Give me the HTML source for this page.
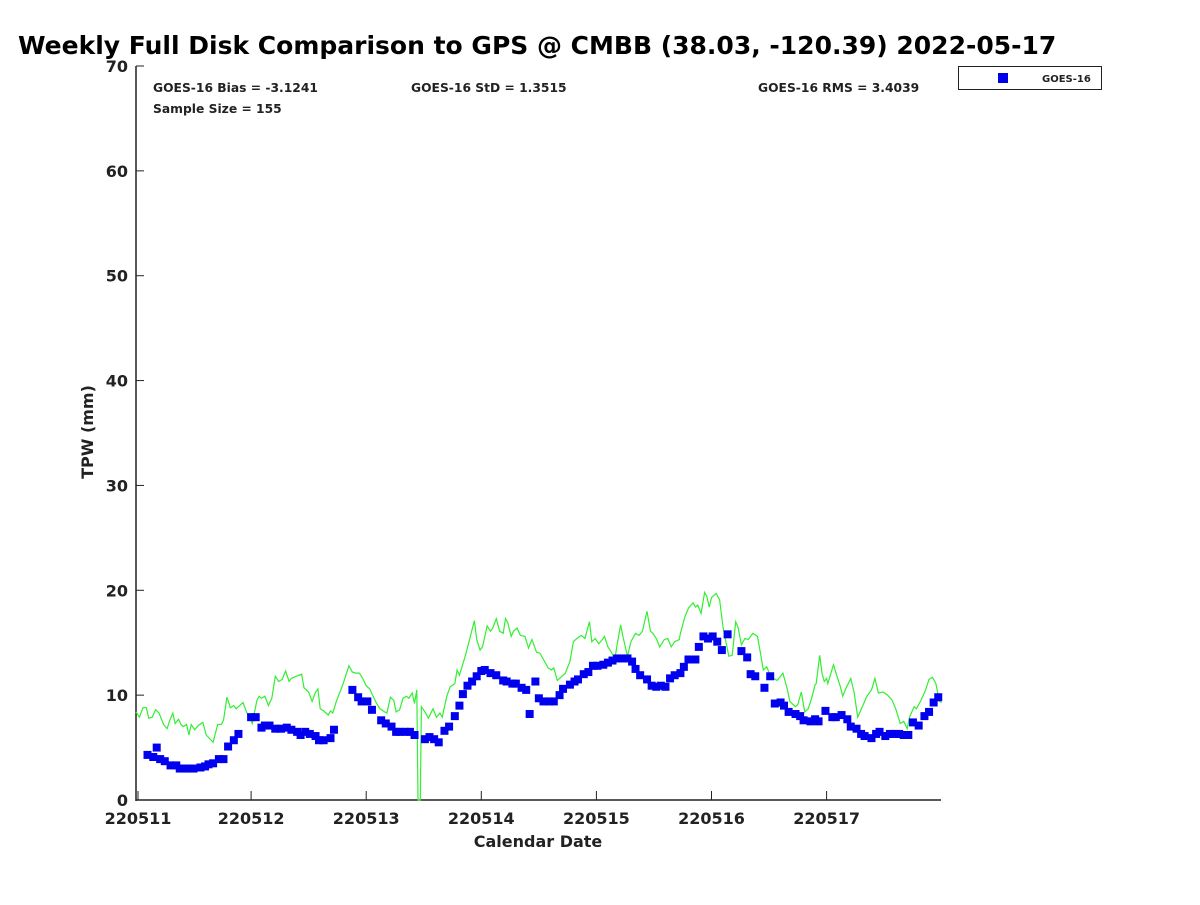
<!DOCTYPE html>
<html><head><meta charset="utf-8"><style>
body{margin:0;background:#fff;}
svg text{font-family:"DejaVu Sans","Liberation Sans",sans-serif;font-weight:bold;fill:#222;}
</style></head><body>
<svg width="1200" height="900" xmlns="http://www.w3.org/2000/svg">
<text x="18" y="54" font-size="25" style="fill:#000">Weekly Full Disk Comparison to GPS @ CMBB (38.03, -120.39) 2022-05-17</text>
<g id="axes"></g>
<g id="marks"></g>
<text x="153" y="92" font-size="12.3">GOES-16 Bias = -3.1241</text>
<text x="411" y="92" font-size="12.3">GOES-16 StD = 1.3515</text>
<text x="758" y="92" font-size="12.3">GOES-16 RMS = 3.4039</text>
<text x="153" y="113" font-size="12.3">Sample Size = 155</text>
<g>
<rect x="958.5" y="66.5" width="143" height="23" fill="#fff" stroke="#222" stroke-width="1"/>
<rect x="998" y="73" width="10" height="10" fill="#0000ee"/>
<text x="1042" y="82" font-size="10">GOES-16</text>
</g>
<text transform="translate(93,432) rotate(-90)" text-anchor="middle" font-size="16">TPW (mm)</text>
<text x="538" y="847" text-anchor="middle" font-size="16">Calendar Date</text>
</svg>
<script>
const yTicks=[0,10,20,30,40,50,60,70];
const xTickLabels=["220511","220512","220513","220514","220515","220516","220517"];
const goesDays=[0.10,0.15,0.18,0.21,0.25,0.30,0.35,0.38,0.43,0.46,0.50,0.56,0.60,0.63,0.67,0.72,0.76,0.80,0.85,0.89,1.00,1.04,1.09,1.12,1.16,1.21,1.26,1.31,1.35,1.40,1.43,1.47,1.51,1.56,1.59,1.63,1.69,1.72,1.88,1.93,1.96,2.01,2.05,2.13,2.17,2.22,2.26,2.29,2.34,2.38,2.42,2.51,2.55,2.59,2.63,2.68,2.72,2.77,2.81,2.84,2.88,2.92,2.96,3.00,3.03,3.08,3.13,3.19,3.22,3.27,3.30,3.35,3.39,3.42,3.47,3.50,3.54,3.59,3.63,3.68,3.71,3.77,3.81,3.84,3.89,3.93,3.97,4.01,4.06,4.10,4.14,4.18,4.22,4.27,4.31,4.34,4.38,4.44,4.48,4.52,4.56,4.60,4.64,4.68,4.73,4.76,4.80,4.86,4.89,4.93,4.97,5.01,5.05,5.09,5.14,5.26,5.31,5.34,5.38,5.46,5.51,5.55,5.60,5.63,5.67,5.73,5.77,5.80,5.86,5.90,5.93,5.99,6.05,6.08,6.13,6.18,6.21,6.26,6.30,6.33,6.39,6.43,6.46,6.51,6.55,6.59,6.63,6.67,6.71,6.75,6.80,6.85,6.89,6.93,6.97];
const goesTpw=[4.3,4.1,5.0,3.9,3.7,3.3,3.3,3.0,3.0,3.0,3.0,3.1,3.2,3.4,3.5,3.9,3.9,5.1,5.7,6.3,7.9,7.9,6.9,7.1,7.1,6.8,6.8,6.9,6.7,6.5,6.2,6.5,6.3,6.1,5.7,5.7,5.9,6.7,10.5,9.8,9.4,9.4,8.6,7.6,7.3,7.0,6.5,6.5,6.5,6.5,6.2,5.8,6.0,5.8,5.5,6.6,7.0,8.0,9.0,10.1,10.9,11.3,11.8,12.3,12.4,12.1,11.9,11.4,11.3,11.1,11.1,10.7,10.5,8.2,11.3,9.7,9.4,9.4,9.4,10.0,10.6,11.0,11.3,11.5,12.0,12.2,12.8,12.8,12.9,13.1,13.3,13.5,13.5,13.5,13.2,12.5,11.9,11.5,10.9,10.8,10.9,10.8,11.6,11.9,12.1,12.7,13.4,13.4,14.6,15.6,15.4,15.6,15.1,14.3,15.8,14.2,13.6,12.0,11.8,10.7,11.8,9.2,9.3,9.0,8.4,8.2,8.0,7.6,7.5,7.7,7.5,8.5,7.9,7.9,8.1,7.7,7.0,6.8,6.3,6.1,5.9,6.3,6.5,6.1,6.3,6.3,6.3,6.2,6.2,7.4,7.1,8.0,8.4,9.3,9.8];
const gpsDays=[0.00,0.03,0.06,0.09,0.11,0.14,0.17,0.20,0.24,0.27,0.29,0.32,0.34,0.37,0.39,0.41,0.44,0.46,0.48,0.51,0.54,0.58,0.61,0.67,0.71,0.74,0.76,0.79,0.82,0.85,0.87,0.90,0.93,0.96,1.01,1.03,1.05,1.07,1.09,1.12,1.15,1.18,1.21,1.24,1.27,1.30,1.33,1.35,1.39,1.44,1.46,1.50,1.53,1.56,1.58,1.60,1.63,1.67,1.69,1.71,1.74,1.80,1.85,1.88,1.91,1.94,1.97,2.00,2.03,2.06,2.09,2.12,2.16,2.18,2.21,2.24,2.26,2.29,2.32,2.35,2.37,2.40,2.42,2.44,2.45,2.47,2.48,2.51,2.54,2.58,2.61,2.64,2.66,2.70,2.73,2.77,2.79,2.81,2.86,2.90,2.94,2.96,2.99,3.01,3.05,3.08,3.10,3.13,3.16,3.19,3.21,3.23,3.26,3.28,3.31,3.34,3.38,3.41,3.44,3.48,3.51,3.54,3.58,3.61,3.63,3.66,3.68,3.73,3.77,3.80,3.83,3.87,3.90,3.94,3.96,3.99,4.02,4.05,4.07,4.10,4.13,4.16,4.18,4.21,4.23,4.27,4.30,4.34,4.37,4.40,4.44,4.47,4.49,4.52,4.55,4.59,4.62,4.65,4.68,4.72,4.73,4.77,4.80,4.84,4.86,4.88,4.91,4.94,4.96,4.98,5.00,5.04,5.07,5.10,5.13,5.15,5.18,5.21,5.23,5.26,5.29,5.32,5.36,5.40,5.43,5.45,5.48,5.51,5.54,5.57,5.60,5.62,5.66,5.68,5.73,5.75,5.78,5.81,5.84,5.87,5.90,5.91,5.94,5.96,5.98,6.00,6.01,6.06,6.09,6.12,6.14,6.17,6.21,6.24,6.27,6.31,6.35,6.39,6.42,6.45,6.49,6.53,6.57,6.60,6.64,6.67,6.70,6.72,6.76,6.78,6.82,6.86,6.89,6.92,6.95,6.98,7.00];
const gpsTpw=[8.4,7.9,8.8,8.8,7.8,7.9,8.6,8.3,7.2,6.8,7.5,8.3,7.3,7.7,7.2,7.0,7.2,6.2,7.2,6.7,7.1,7.4,6.2,5.5,7.2,7.2,7.6,9.8,8.8,9.0,8.7,9.0,9.3,8.4,7.3,8.4,9.5,9.9,9.7,9.9,9.0,9.7,11.8,11.3,11.5,12.3,11.3,11.6,11.8,12.0,10.7,10.3,9.4,10.3,10.6,8.7,8.5,8.1,8.5,8.3,9.4,11.1,12.8,12.2,12.1,12.1,11.6,10.9,10.6,9.9,9.2,8.7,8.4,8.3,9.8,9.5,8.4,8.6,9.7,9.9,9.7,10.2,9.2,10.5,0,0,8.9,8.4,7.8,8.7,7.9,8.3,7.9,9.9,10.8,11.1,12.4,11.9,13.7,15.4,17.1,15.3,14.3,14.6,16.6,16.1,16.4,17.3,16.1,15.9,17.3,16.9,15.6,16.1,16.4,15.7,15.6,14.5,15.3,14.1,14.0,13.4,12.6,12.4,12.6,11.4,11.6,12.1,13.2,15.1,15.4,15.7,15.4,17.0,15.1,15.4,14.9,15.3,15.6,14.6,14.1,13.4,14.8,16.7,15.6,13.7,15.1,15.9,15.7,16.1,18.0,16.1,15.9,15.4,14.6,15.3,15.4,14.6,15.1,15.3,15.9,17.5,18.3,18.8,18.4,18.6,17.8,19.8,19.4,18.4,19.3,19.7,19.1,16.5,14.8,13.7,13.8,17.0,16.5,14.8,15.4,15.3,15.9,15.6,13.7,12.4,12.7,11.9,11.6,11.4,11.8,12.1,10.5,9.4,8.9,9.1,10.3,8.4,8.7,9.7,11.0,11.1,13.8,12.1,11.3,11.6,11.1,12.9,11.8,10.8,9.9,10.7,11.6,10.2,7.9,8.9,9.9,10.5,11.6,10.2,10.3,10.0,9.5,8.7,7.3,7.5,6.8,7.9,8.9,8.7,9.5,10.5,11.5,11.7,11.1,9.4,9.3];

const X0=136,X1=941,Y0=800,Y1=66;
const xScale=d=>X0+d*115.1;
const yScale=v=>Y0-(v/70)*(Y0-Y1);
const NS="http://www.w3.org/2000/svg";
function mk(tag,attrs,parent){const e=document.createElementNS(NS,tag);for(const k in attrs)e.setAttribute(k,attrs[k]);parent.appendChild(e);return e;}
const axes=document.getElementById('axes'),marks=document.getElementById('marks');
let a=mk('line',{x1:X0,y1:Y1,x2:X0,y2:Y0+1,stroke:'#222','stroke-width':1.5},axes);


a=mk('line',{x1:X0,y1:Y0,x2:X1,y2:Y0,stroke:'#222','stroke-width':1.5},axes);


yTicks.forEach(v=>{const y=yScale(v);
 mk('line',{x1:X0,y1:y,x2:X0+8,y2:y,stroke:'#222','stroke-width':1},axes);
 const t=mk('text',{x:X0-8,y:y+6,'text-anchor':'end','font-size':16},axes);t.textContent=v;
 
 
});
xTickLabels.forEach((l,i)=>{const x=xScale(i)+(i===0?2:0);
 mk('line',{x1:x,y1:Y0,x2:x,y2:Y0-9,stroke:'#222','stroke-width':1},axes);
 const t=mk('text',{x:x,y:824,'text-anchor':'middle','font-size':16},axes);t.textContent=l;
 
 
});
const pts=gpsDays.map((d,i)=>xScale(d).toFixed(1)+','+yScale(gpsTpw[i]).toFixed(1)).join(' ');
const pl=mk('polyline',{points:pts,fill:'none',stroke:'#33ee33','stroke-width':1.2},marks);


goesDays.forEach((d,i)=>{
 const r=mk('rect',{x:xScale(d)-4,y:yScale(goesTpw[i])-4,width:8,height:8,fill:'#0000ee'},marks);
 
 
});
</script>
</body></html>
